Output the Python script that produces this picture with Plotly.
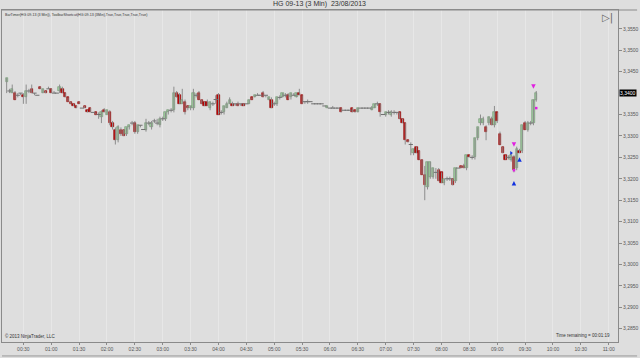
import numpy as np
import pandas as pd
import plotly.graph_objects as go

# ---- data (HG 09-13, 3-minute bars, 23/08/2013) ----
bar_start = "2013-08-23 00:12"
bar_minutes = 3

opens = [
 3.3425,3.3405,3.3400,3.3400,3.3395,3.3400,3.3395,3.3390,3.3405,3.3410,
 3.3400,3.3395,3.3415,3.3400,3.3405,3.3410,3.3410,3.3400,3.3400,3.3405,
 3.3410,3.3400,3.3390,3.3380,3.3375,3.3370,3.3380,3.3365,3.3370,3.3360,
 3.3365,3.3355,3.3355,3.3350,3.3345,3.3360,3.3350,3.3355,3.3330,3.3315,
 3.3290,3.3315,3.3315,3.3305,3.3320,3.3330,3.3330,3.3310,3.3325,3.3315,
 3.3315,3.3330,3.3320,3.3335,3.3330,3.3325,3.3340,3.3340,3.3355,3.3360,
 3.3360,3.3400,3.3395,3.3375,3.3380,3.3370,3.3365,3.3365,3.3395,3.3400,
 3.3385,3.3380,3.3380,3.3365,3.3375,3.3385,3.3395,3.3355,3.3355,3.3365,
 3.3375,3.3375,3.3375,3.3375,3.3375,3.3375,3.3375,3.3375,3.3390,3.3390,
 3.3395,3.3395,3.3400,3.3395,3.3385,3.3385,3.3375,3.3375,3.3390,3.3390,
 3.3395,3.3395,3.3390,3.3395,3.3390,3.3400,3.3395,3.3380,3.3380,3.3380,
 3.3375,3.3375,3.3375,3.3375,3.3370,3.3365,3.3365,3.3365,3.3365,3.3365,
 3.3365,3.3360,3.3360,3.3360,3.3365,3.3360,3.3355,3.3365,3.3365,3.3365,
 3.3365,3.3360,3.3365,3.3375,3.3375,3.3350,3.3350,3.3355,3.3350,3.3355,
 3.3355,3.3355,3.3340,3.3330,3.3290,3.3280,3.3260,3.3275,3.3265,3.3245,
 3.3210,3.3180,3.3205,3.3205,3.3215,3.3220,3.3215,3.3190,3.3200,3.3200,
 3.3200,3.3195,3.3225,3.3230,3.3230,3.3225,3.3255,3.3250,3.3250,3.3295,
 3.3330,3.3330,3.3320,3.3330,3.3340,3.3325,3.3355,3.3305,3.3275,3.3255,
 3.3250,3.3245,3.3250,3.3225,3.3265,3.3265,3.3330,3.3315,3.3330,3.3330,
 3.3385]
highs = [
 3.3435,3.3410,3.3420,3.3405,3.3400,3.3400,3.3400,3.3420,3.3410,3.3420,
 3.3400,3.3395,3.3415,3.3410,3.3405,3.3415,3.3410,3.3405,3.3400,3.3420,
 3.3415,3.3400,3.3390,3.3380,3.3375,3.3370,3.3380,3.3365,3.3370,3.3360,
 3.3365,3.3355,3.3355,3.3355,3.3360,3.3365,3.3360,3.3360,3.3335,3.3320,
 3.3325,3.3320,3.3315,3.3320,3.3325,3.3335,3.3335,3.3325,3.3325,3.3315,
 3.3340,3.3335,3.3335,3.3340,3.3340,3.3345,3.3345,3.3355,3.3360,3.3365,
 3.3415,3.3405,3.3400,3.3410,3.3385,3.3370,3.3370,3.3410,3.3400,3.3405,
 3.3385,3.3380,3.3385,3.3380,3.3380,3.3395,3.3400,3.3360,3.3370,3.3380,
 3.3390,3.3380,3.3375,3.3380,3.3375,3.3375,3.3375,3.3385,3.3390,3.3395,
 3.3400,3.3395,3.3405,3.3395,3.3390,3.3390,3.3380,3.3390,3.3395,3.3400,
 3.3400,3.3400,3.3400,3.3400,3.3400,3.3410,3.3395,3.3380,3.3385,3.3380,
 3.3375,3.3375,3.3375,3.3375,3.3370,3.3370,3.3365,3.3370,3.3365,3.3365,
 3.3365,3.3360,3.3360,3.3360,3.3365,3.3360,3.3365,3.3365,3.3365,3.3365,
 3.3365,3.3370,3.3375,3.3380,3.3375,3.3350,3.3355,3.3360,3.3360,3.3360,
 3.3355,3.3355,3.3340,3.3330,3.3290,3.3285,3.3270,3.3275,3.3265,3.3245,
 3.3230,3.3240,3.3240,3.3225,3.3225,3.3225,3.3215,3.3200,3.3205,3.3205,
 3.3200,3.3225,3.3225,3.3230,3.3235,3.3255,3.3255,3.3255,3.3295,3.3320,
 3.3350,3.3345,3.3325,3.3345,3.3345,3.3370,3.3355,3.3310,3.3275,3.3255,
 3.3255,3.3260,3.3255,3.3275,3.3270,3.3325,3.3335,3.3335,3.3335,3.3385,
 3.3405]
lows = [
 3.3400,3.3400,3.3400,3.3385,3.3390,3.3395,3.3375,3.3375,3.3400,3.3400,
 3.3395,3.3395,3.3410,3.3400,3.3400,3.3410,3.3400,3.3400,3.3400,3.3400,
 3.3400,3.3390,3.3380,3.3375,3.3370,3.3365,3.3375,3.3365,3.3365,3.3355,
 3.3355,3.3355,3.3350,3.3340,3.3330,3.3355,3.3350,3.3325,3.3315,3.3280,
 3.3285,3.3300,3.3300,3.3300,3.3315,3.3325,3.3305,3.3305,3.3320,3.3315,
 3.3310,3.3325,3.3315,3.3330,3.3325,3.3320,3.3335,3.3335,3.3350,3.3355,
 3.3355,3.3390,3.3375,3.3375,3.3350,3.3360,3.3360,3.3360,3.3390,3.3385,
 3.3375,3.3370,3.3370,3.3360,3.3370,3.3375,3.3350,3.3350,3.3350,3.3365,
 3.3375,3.3370,3.3370,3.3370,3.3370,3.3370,3.3375,3.3375,3.3385,3.3390,
 3.3395,3.3395,3.3390,3.3390,3.3385,3.3365,3.3370,3.3370,3.3385,3.3390,
 3.3390,3.3385,3.3385,3.3395,3.3390,3.3395,3.3375,3.3375,3.3375,3.3380,
 3.3375,3.3375,3.3375,3.3375,3.3370,3.3365,3.3365,3.3365,3.3365,3.3365,
 3.3355,3.3360,3.3360,3.3360,3.3355,3.3355,3.3355,3.3365,3.3365,3.3365,
 3.3365,3.3360,3.3365,3.3370,3.3345,3.3350,3.3345,3.3350,3.3345,3.3350,
 3.3350,3.3340,3.3330,3.3280,3.3285,3.3255,3.3255,3.3260,3.3245,3.3210,
 3.3150,3.3175,3.3200,3.3200,3.3200,3.3195,3.3190,3.3185,3.3195,3.3195,
 3.3185,3.3190,3.3225,3.3225,3.3225,3.3220,3.3250,3.3245,3.3245,3.3290,
 3.3325,3.3325,3.3290,3.3325,3.3325,3.3320,3.3330,3.3280,3.3260,3.3245,
 3.3245,3.3240,3.3215,3.3220,3.3260,3.3260,3.3315,3.3310,3.3325,3.3325,
 3.3380]
closes = [
 3.3435,3.3405,3.3410,3.3385,3.3395,3.3400,3.3390,3.3405,3.3405,3.3400,
 3.3400,3.3395,3.3410,3.3410,3.3400,3.3410,3.3400,3.3400,3.3400,3.3415,
 3.3400,3.3390,3.3380,3.3375,3.3370,3.3365,3.3375,3.3365,3.3365,3.3355,
 3.3355,3.3355,3.3350,3.3350,3.3355,3.3355,3.3360,3.3330,3.3320,3.3290,
 3.3320,3.3305,3.3300,3.3320,3.3325,3.3330,3.3310,3.3325,3.3325,3.3315,
 3.3330,3.3330,3.3330,3.3335,3.3330,3.3340,3.3340,3.3355,3.3360,3.3360,
 3.3400,3.3390,3.3375,3.3385,3.3355,3.3365,3.3370,3.3400,3.3395,3.3385,
 3.3375,3.3370,3.3370,3.3380,3.3375,3.3385,3.3350,3.3355,3.3370,3.3375,
 3.3385,3.3370,3.3375,3.3370,3.3375,3.3370,3.3375,3.3385,3.3385,3.3395,
 3.3395,3.3395,3.3390,3.3395,3.3390,3.3365,3.3375,3.3390,3.3390,3.3400,
 3.3395,3.3385,3.3400,3.3395,3.3400,3.3395,3.3375,3.3380,3.3380,3.3380,
 3.3375,3.3375,3.3375,3.3375,3.3370,3.3370,3.3365,3.3365,3.3365,3.3365,
 3.3355,3.3360,3.3360,3.3360,3.3355,3.3355,3.3365,3.3365,3.3365,3.3365,
 3.3365,3.3365,3.3375,3.3375,3.3355,3.3350,3.3355,3.3355,3.3355,3.3355,
 3.3355,3.3340,3.3330,3.3290,3.3285,3.3280,3.3270,3.3260,3.3245,3.3210,
 3.3185,3.3240,3.3240,3.3225,3.3215,3.3195,3.3190,3.3200,3.3200,3.3200,
 3.3185,3.3225,3.3225,3.3225,3.3225,3.3255,3.3250,3.3250,3.3295,3.3320,
 3.3340,3.3340,3.3310,3.3345,3.3325,3.3355,3.3335,3.3280,3.3260,3.3245,
 3.3250,3.3255,3.3220,3.3270,3.3260,3.3325,3.3315,3.3330,3.3330,3.3385,
 3.3400]

sell_times = ["2013-08-23 09:18", "2013-08-23 09:39"]
sell_prices = [3.3275, 3.3410]
buy_times = ["2013-08-23 09:18", "2013-08-23 09:24"]
buy_prices = [3.3195, 3.3250]
mag_dot_times = ["2013-08-23 09:18", "2013-08-23 09:42"]
mag_dot_prices = [3.3220, 3.3365]
blue_dot_times = ["2013-08-23 09:15"]
blue_dot_prices = [3.3260]

last_price = 3.3400
price_ticks_low, price_ticks_high, price_tick_step = 3.2850, 3.3550, 0.0050
title_text = "HG 09-13 (3 Min)  23/08/2013"
indicator_text = "BarTimer(HG 09-13 (3 Min)), ToolbarShortcut(HG 09-13 (3Min),True,True,True,True,True)"
copyright_text = "© 2013 NinjaTrader, LLC"
timer_text = "Time remaining = 00:01:19"

# ---- figure ----
times = pd.date_range(bar_start, periods=len(closes), freq=f"{bar_minutes}min")
o = np.array(opens); h = np.array(highs); l = np.array(lows); c = np.array(closes)
up = c > o
flat = c == o

BG = "#dedede"
FONT = "Liberation Sans, Arial, sans-serif"
UP_FILL, UP_EDGE = "#9fcf9f", "#6e8e6e"
DN_FILL, DN_EDGE = "#c00000", "#8a0000"
WICK = "#8c8c8c"

fig = go.Figure()

# wicks
wx, wy = [], []
for t, lo, hi in zip(times, l, h):
    wx += [t, t, None]
    wy += [lo, hi, None]
fig.add_trace(go.Scatter(x=wx, y=wy, mode="lines", line=dict(color=WICK, width=1),
                         hoverinfo="skip", showlegend=False))

# bodies
body_w = bar_minutes * 60 * 1000 * 0.8
fig.add_trace(go.Bar(
    x=times[~flat], base=o[~flat], y=(c - o)[~flat], width=body_w,
    marker=dict(color=np.where(up, UP_FILL, DN_FILL)[~flat],
                line=dict(color=np.where(up, UP_EDGE, DN_EDGE)[~flat], width=0.6)),
    hoverinfo="skip", showlegend=False))

# flat bars (open == close) drawn as short dashes
fig.add_trace(go.Scatter(x=times[flat], y=c[flat], mode="markers",
    marker=dict(symbol="line-ew", size=3, line=dict(color="#707070", width=1)),
    hoverinfo="skip", showlegend=False))

# signal markers
fig.add_trace(go.Scatter(x=sell_times, y=sell_prices, mode="markers",
    marker=dict(symbol="arrow-down", size=4.5, color="#e020e0", line=dict(width=0)),
    showlegend=False))
fig.add_trace(go.Scatter(x=buy_times, y=buy_prices, mode="markers",
    marker=dict(symbol="arrow-up", size=4.5, color="#1030e0", line=dict(width=0)),
    showlegend=False))
fig.add_trace(go.Scatter(x=mag_dot_times, y=mag_dot_prices, mode="markers",
    marker=dict(symbol="square", size=2.5, color="#e020e0", line=dict(width=0)),
    showlegend=False))
fig.add_trace(go.Scatter(x=blue_dot_times, y=blue_dot_prices, mode="markers",
    marker=dict(symbol="triangle-right", size=3.5, color="#1030e0", line=dict(width=0)),
    showlegend=False))

tick_vals = np.round(np.arange(price_ticks_low, price_ticks_high + 1e-9, price_tick_step), 4)
tick_vals = [v for v in tick_vals if abs(v - last_price) > 1e-9]

fig.update_layout(
    width=640, height=358,
    margin=dict(l=1, r=19, t=10, b=16),
    paper_bgcolor=BG, plot_bgcolor=BG,
    separators=", ",
    barmode="overlay", bargap=0,
    font=dict(family=FONT, size=5, color="#555"),
    xaxis=dict(
        type="date",
        range=["2013-08-23 00:07", "2013-08-23 11:10"],
        dtick=30 * 60 * 1000, tick0="2013-08-23 00:00",
        tickformat="%H:%M",
        showgrid=True, gridcolor="#e7e7e7", gridwidth=1,
        showline=True, linecolor="#8a8a8a", linewidth=1, mirror=True,
        ticks="outside", ticklen=2, tickcolor="#8a8a8a",
        tickfont=dict(size=5, color="#555", family=FONT),
        zeroline=False,
    ),
    yaxis=dict(
        side="right",
        range=[3.2819, 3.3594],
        tickmode="array", tickvals=tick_vals, tickformat=".4f",
        showgrid=False,
        showline=True, linecolor="#8a8a8a", linewidth=1, mirror=True,
        ticks="outside", ticklen=3, tickcolor="#8a8a8a",
        tickfont=dict(size=5, color="#555", family=FONT),
        zeroline=False,
    ),
)

annotations = [
    dict(text=title_text, xref="paper", yref="paper", x=0.515, y=1.0,
         yanchor="bottom", xanchor="center", showarrow=False,
         font=dict(size=7, color="#333", family=FONT)),
    dict(text=indicator_text, xref="paper", yref="paper", x=0.0, y=1.0,
         xanchor="left", yanchor="top", showarrow=False, xshift=1, yshift=-1,
         font=dict(size=3.6, color="#333", family=FONT)),
    dict(text=copyright_text, xref="paper", yref="paper", x=0.0, y=0.0,
         xanchor="left", yanchor="bottom", showarrow=False, xshift=1, yshift=1,
         font=dict(size=4.5, color="#333", family=FONT)),
    dict(text=timer_text, xref="paper", yref="paper", x=1.0, y=0.0,
         xanchor="right", yanchor="bottom", showarrow=False, xshift=-6, yshift=2,
         font=dict(size=4.5, color="#333", family=FONT)),
    dict(text="▷|", xref="paper", yref="paper", x=1.0, y=1.0,
         xanchor="right", yanchor="top", showarrow=False, xshift=-3, yshift=0,
         font=dict(size=10, color="#666", family="DejaVu Sans")),
    dict(text=f"{last_price:.4f}".replace(".", ","), xref="paper", yref="y", x=1.0, y=last_price,
         xanchor="left", yanchor="middle", showarrow=False, xshift=1,
         bgcolor="#000000", borderpad=0,
         font=dict(size=5, color="#ffffff", family=FONT)),
]
fig.update_layout(annotations=annotations)

# window frame lines: top rule across the whole panel, bottom edge
fig.add_shape(type="line", xref="paper", yref="paper", x0=0, x1=1.031, y0=1, y1=1,
              line=dict(color="#8a8a8a", width=1))
fig.add_shape(type="line", xref="paper", yref="paper", x0=0, x1=1.031, y0=-0.042, y1=-0.042,
              line=dict(color="#9a9a9a", width=1))

fig.write_html("out.html")
